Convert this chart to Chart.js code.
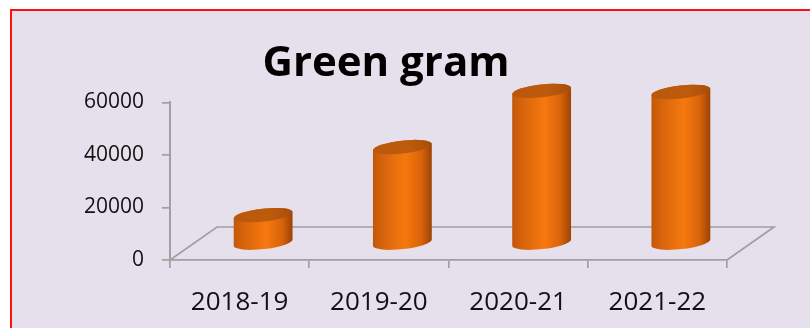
<!DOCTYPE html>
<html><head><meta charset="utf-8">
<script src="https://cdn.jsdelivr.net/npm/chart.js@4.4.1/dist/chart.umd.min.js"></script>
<style>
html,body{margin:0;padding:0;background:#fff;width:810px;height:328px;overflow:hidden}
#frame{position:absolute;left:10px;top:9px;width:830px;height:350px;border:2px solid #ff1010;background:#e5e0ec;box-sizing:border-box}
#wrap{position:absolute;left:0;top:0;width:810px;height:328px}
</style></head><body>
<div id="frame"></div>
<div id="wrap"><canvas id="c" width="810" height="328"></canvas></div>
<script>
const categories = ['2018-19', '2019-20', '2020-21', '2021-22'];
const values = [10800, 36700, 58100, 57700];
const yTicks = [0, 20000, 40000, 60000];
const chartTitle = 'Green gram';

const DEPTH_X = 47, DEPTH_Y = -33;   // floor depth
const BAR_DX = 23.5, BAR_DY = -16.5; // bars at mid depth
const RY = 6.5, TILT = -0.11;

const floorPlugin = {
  id: 'floor',
  beforeDatasetsDraw(chart) {
    const {ctx, chartArea: ca} = chart;
    ctx.save();
    ctx.strokeStyle = '#a0a0a0';
    ctx.lineWidth = 1.7;
    ctx.beginPath();
    ctx.moveTo(ca.left, ca.bottom);
    ctx.lineTo(ca.left + DEPTH_X, ca.bottom + DEPTH_Y);
    ctx.lineTo(ca.right + DEPTH_X, ca.bottom + DEPTH_Y);
    ctx.lineTo(ca.right, ca.bottom);
    ctx.stroke();
    ctx.restore();
  }
};

const cylinderPlugin = {
  id: 'cylinder',
  afterDatasetsDraw(chart) {
    const {ctx} = chart;
    const meta = chart.getDatasetMeta(0);
    meta.data.forEach(el => {
      const p = el.getProps(['x', 'y', 'base', 'width'], true);
      const cx = p.x + BAR_DX;
      const rx = p.width / 2;
      const topY = p.y + BAR_DY;
      const botY = p.base + BAR_DY;
      const c = Math.cos(TILT), s = Math.sin(TILT);
      ctx.save();
      const g = ctx.createLinearGradient(cx - rx, 0, cx + rx, 0);
      g.addColorStop(0, '#c2570a');
      g.addColorStop(0.18, '#d8640c');
      g.addColorStop(0.55, '#f6790f');
      g.addColorStop(0.82, '#d9630b');
      g.addColorStop(1, '#9a4305');
      ctx.beginPath();
      ctx.moveTo(cx - rx * c, topY - rx * s);
      ctx.lineTo(cx - rx * c, botY - rx * s);
      ctx.ellipse(cx, botY, rx, RY, TILT, Math.PI, 0, true);
      ctx.lineTo(cx + rx * c, topY + rx * s);
      ctx.ellipse(cx, topY, rx, RY, TILT, 0, Math.PI, true);
      ctx.closePath();
      ctx.fillStyle = g;
      ctx.fill();
      const gt = ctx.createLinearGradient(cx - rx, 0, cx + rx, 0);
      gt.addColorStop(0, '#b9580c');
      gt.addColorStop(0.6, '#bd5b0d');
      gt.addColorStop(1, '#a94e08');
      ctx.beginPath();
      ctx.ellipse(cx, topY, rx, RY, TILT, 0, Math.PI * 2);
      ctx.fillStyle = gt;
      ctx.fill();
      ctx.restore();
    });
  }
};

new Chart(document.getElementById('c'), {
  type: 'bar',
  data: {
    labels: categories,
    datasets: [{
      data: values,
      backgroundColor: 'rgba(0,0,0,0)',
      borderWidth: 0,
      categoryPercentage: 1,
      barPercentage: 0.425
    }]
  },
  options: {
    responsive: false,
    animation: false,
    devicePixelRatio: 1,
    layout: {padding: {left: 45, right: 83, top: 0, bottom: 0}},
    plugins: {
      legend: {display: false},
      tooltip: {enabled: false},
      title: {
        display: true,
        text: chartTitle,
        color: '#000',
        font: {family: 'Open Sans', size: 42, weight: 'bold', lineHeight: 1.2},
        padding: {top: 39, bottom: 13}
      }
    },
    scales: {
      x: {
        grid: {display: true, drawOnChartArea: false, drawTicks: true, tickLength: 8, color: '#a0a0a0', lineWidth: 1.7, offset: true},
        border: {display: true, color: '#a0a0a0', width: 1.7},
        ticks: {color: '#111', font: {family: 'Open Sans', size: 26}, padding: 19, maxRotation: 0},
        afterFit(scale) { scale.height = 68; }
      },
      y: {
        min: 0, max: 60000,
        grid: {display: true, drawOnChartArea: false, drawTicks: true, tickLength: 8, color: '#a0a0a0', lineWidth: 1.7},
        border: {display: true, color: '#a0a0a0', width: 2},
        ticks: {color: '#111', font: {family: 'Open Sans', size: 21}, padding: 18, callback: v => String(v)},
        afterBuildTicks(scale) { scale.ticks = yTicks.map(v => ({value: v})); },
        afterFit(scale) { scale.width = 125; }
      }
    }
  },
  plugins: [floorPlugin, cylinderPlugin]
});
</script>
</body></html>
